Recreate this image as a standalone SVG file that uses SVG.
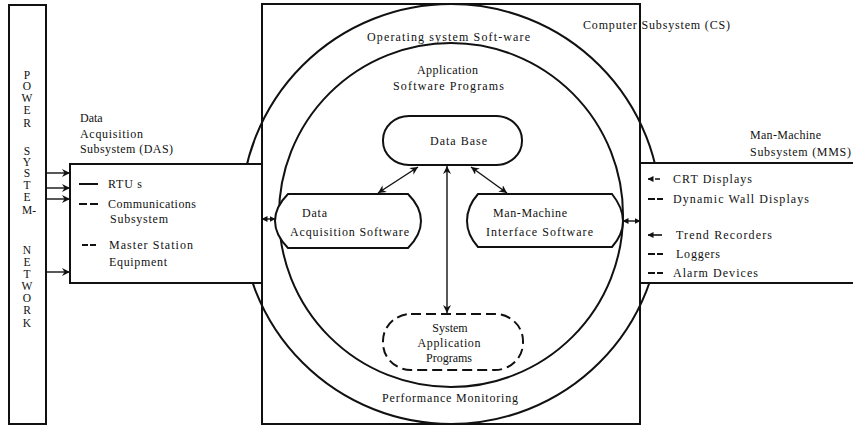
<svg xmlns="http://www.w3.org/2000/svg" width="853" height="429" viewBox="0 0 853 429">
<defs>
<style>
text{font-family:"Liberation Serif","Times New Roman",serif;font-size:12px;fill:#111}
.ln{fill:none;stroke:#111;stroke-width:2}
.bx{fill:#fff;stroke:#111;stroke-width:2}
.ar{fill:none;stroke:#111;stroke-width:1.4}
.c{text-anchor:middle}
.pl{text-anchor:middle;font-size:11.5px}
</style>
<marker id="ah" markerWidth="9" markerHeight="8" refX="8" refY="4" orient="auto-start-reverse" markerUnits="userSpaceOnUse">
<path d="M0,0 L8,4 L0,8 L2.5,4 Z" fill="#111"/>
</marker>
<marker id="as" markerWidth="6" markerHeight="6" refX="5.5" refY="3" orient="auto-start-reverse" markerUnits="userSpaceOnUse">
<path d="M0,0 L6,3 L0,6 Z" fill="#111"/>
</marker>
</defs>

<g id="power-system-network">
<rect x="9" y="5" width="37" height="419" class="bx"/>
<text class="pl" x="27" y="79">P</text>
<text class="pl" x="27" y="90">O</text>
<text class="pl" x="27" y="102">W</text>
<text class="pl" x="27" y="114">E</text>
<text class="pl" x="27" y="127">R</text>
<text class="pl" x="27" y="155">S</text>
<text class="pl" x="27" y="166">Y</text>
<text class="pl" x="27" y="177">S</text>
<text class="pl" x="27" y="189">T</text>
<text class="pl" x="27" y="201">E</text>
<text class="pl" x="29" y="214">M-</text>
<text class="pl" x="27" y="254">N</text>
<text class="pl" x="27" y="266">E</text>
<text class="pl" x="27" y="278">T</text>
<text class="pl" x="27" y="290">W</text>
<text class="pl" x="27" y="302">O</text>
<text class="pl" x="27" y="314">R</text>
<text class="pl" x="27" y="327">K</text>
</g>

<g id="computer-subsystem">
<rect x="262" y="4" width="378" height="420" class="bx"/>
<circle cx="451" cy="214" r="210" class="ln"/>
<circle cx="451" cy="215" r="172" class="ln"/>
<text x="583" y="29" textLength="147" lengthAdjust="spacing">Computer Subsystem (CS)</text>
<text x="367" y="41" textLength="163" lengthAdjust="spacing">Operating system Soft-ware</text>
<text x="417" y="74" textLength="61" lengthAdjust="spacing">Application</text>
<text x="393" y="90" textLength="111" lengthAdjust="spacing">Software Programs</text>
<text x="382" y="402" textLength="136" lengthAdjust="spacing">Performance Monitoring</text>
</g>

<g id="das">
<rect x="70" y="164" width="192" height="119" class="bx"/>
<text x="80" y="122">Data</text>
<text x="80" y="138" textLength="63" lengthAdjust="spacing">Acquisition</text>
<text x="80" y="153" textLength="93" lengthAdjust="spacing">Subsystem (DAS)</text>
<line x1="79" y1="184" x2="98" y2="184" stroke="#111" stroke-width="2"/>
<text x="108" y="188" textLength="34" lengthAdjust="spacing">RTU s</text>
<line x1="79" y1="204" x2="98" y2="204" stroke="#111" stroke-width="2" stroke-dasharray="8,3"/>
<text x="108" y="208" textLength="88" lengthAdjust="spacing">Communications</text>
<text x="110" y="223" textLength="58" lengthAdjust="spacing">Subsystem</text>
<line x1="82" y1="245" x2="97" y2="245" stroke="#111" stroke-width="2" stroke-dasharray="6,2"/>
<text x="109" y="249" textLength="84" lengthAdjust="spacing">Master Station</text>
<text x="109" y="266" textLength="58" lengthAdjust="spacing">Equipment</text>
</g>

<g id="mms">
<rect x="640" y="163" width="220" height="120" class="bx"/>
<text x="750" y="139" textLength="71" lengthAdjust="spacing">Man-Machine</text>
<text x="750" y="156" textLength="101" lengthAdjust="spacing">Subsystem (MMS)</text>
<line x1="648" y1="179" x2="662" y2="179" stroke="#111" stroke-width="1.6" stroke-dasharray="5,2" marker-start="url(#as)"/>
<text x="673" y="183" textLength="79" lengthAdjust="spacing">CRT Displays</text>
<line x1="648" y1="199" x2="663" y2="199" stroke="#111" stroke-width="2" stroke-dasharray="7,2"/>
<text x="673" y="203" textLength="136" lengthAdjust="spacing">Dynamic Wall Displays</text>
<line x1="648" y1="235" x2="662" y2="235" stroke="#111" stroke-width="1.6" marker-start="url(#as)"/>
<text x="676" y="239" textLength="96" lengthAdjust="spacing">Trend Recorders</text>
<line x1="648" y1="254" x2="663" y2="254" stroke="#111" stroke-width="2" stroke-dasharray="7,2"/>
<text x="676" y="258" textLength="44" lengthAdjust="spacing">Loggers</text>
<line x1="648" y1="273" x2="663" y2="273" stroke="#111" stroke-width="2" stroke-dasharray="7,2"/>
<text x="673" y="277" textLength="85" lengthAdjust="spacing">Alarm Devices</text>
</g>

<g id="data-base">
<rect x="383" y="116" width="139" height="49" rx="26" ry="24" class="bx"/>
<text x="430" y="145" textLength="57" lengthAdjust="spacing">Data Base</text>
</g>

<g id="data-acquisition-software">
<path d="M288,194 H408 C418,204 421,212 421,221 C421,231 417,239 408,248 H288 C279,239 275,231 275,221 C275,212 279,203 288,194 Z" class="bx"/>
<text x="302" y="217" textLength="25" lengthAdjust="spacing">Data</text>
<text x="290" y="236" textLength="119" lengthAdjust="spacing">Acquisition Software</text>
</g>

<g id="man-machine-interface-software">
<path d="M478,194 H612 C620,204 623,212 623,221 C623,230 620,238 612,247 H478 C470,238 467,230 467,221 C467,212 470,203 478,194 Z" class="bx"/>
<text x="493" y="217" textLength="74" lengthAdjust="spacing">Man-Machine</text>
<text x="486" y="236" textLength="107" lengthAdjust="spacing">Interface Software</text>
</g>

<g id="system-application-programs">
<rect x="383" y="314" width="140" height="56" rx="28" ry="27" fill="#fff" stroke="#111" stroke-width="2" stroke-dasharray="10,5"/>
<text class="c" x="450" y="332">System</text>
<text class="c" x="449" y="347" textLength="63" lengthAdjust="spacing">Application</text>
<text class="c" x="449" y="362">Programs</text>
</g>

<g id="connectors">
<line x1="46" y1="173" x2="70" y2="173" class="ar" marker-end="url(#ah)"/>
<line x1="46" y1="188" x2="70" y2="188" class="ar" marker-end="url(#ah)"/>
<line x1="46" y1="199" x2="70" y2="199" class="ar" marker-end="url(#ah)"/>
<line x1="46" y1="272" x2="70" y2="272" class="ar" marker-end="url(#ah)"/>
<line x1="418" y1="167" x2="378" y2="193" class="ar" marker-start="url(#ah)" marker-end="url(#ah)"/>
<line x1="471" y1="167" x2="507" y2="193" class="ar" marker-start="url(#ah)" marker-end="url(#ah)"/>
<line x1="447" y1="166" x2="447" y2="313" class="ar" marker-start="url(#ah)" marker-end="url(#ah)"/>
<line x1="262" y1="219" x2="275" y2="219" class="ar" marker-start="url(#as)" marker-end="url(#as)"/>
<line x1="623" y1="221" x2="640" y2="221" class="ar" marker-start="url(#as)" marker-end="url(#as)"/>
</g>
</svg>
